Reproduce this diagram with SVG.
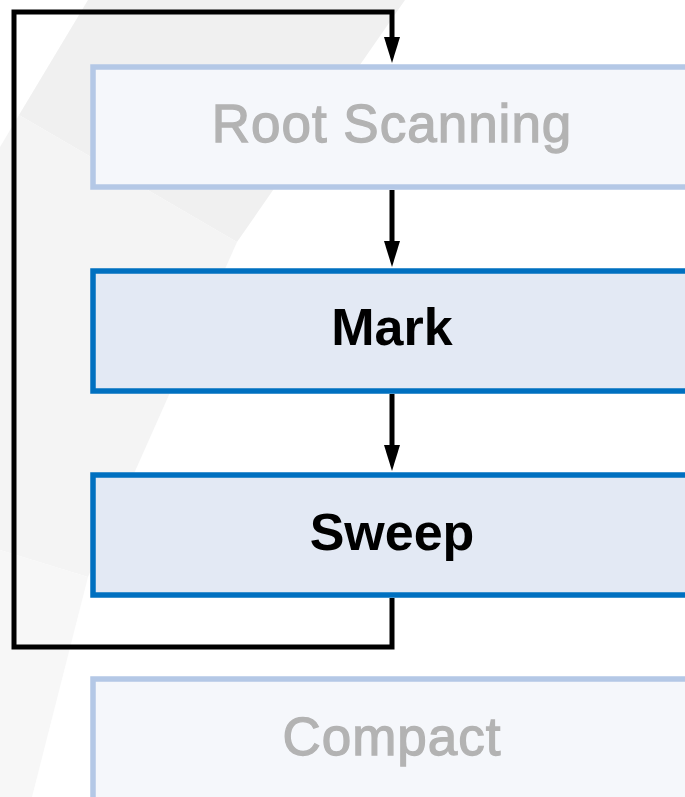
<svg xmlns="http://www.w3.org/2000/svg" width="685" height="797" viewBox="0 0 685 797">
<style>
.bg{stroke:none}
.dim rect{fill:#f5f7fb;stroke:#b4c8e6;stroke-width:5.5}
.act rect{fill:#e3e9f4;stroke:#0070c0;stroke-width:5.5}
.dim text{fill:#b3b3b3;stroke:#b3b3b3;stroke-width:1.3;font-family:"Liberation Sans",Arial,sans-serif;font-size:53px;letter-spacing:1px;text-anchor:middle}
.act text{fill:#000;font-family:"Liberation Sans",Arial,sans-serif;font-size:52px;font-weight:bold;text-anchor:middle}
.conn path{fill:none;stroke:#000;stroke-width:5}
</style>
<defs>
<marker id="arr" viewBox="0 0 26 16" refX="1" refY="8" markerWidth="26" markerHeight="16" markerUnits="userSpaceOnUse" orient="auto">
<path d="M0,0 L26,8 L0,16 Z" fill="#000"/>
</marker>
</defs>
<rect width="685" height="797" fill="#fff"/>
<g id="background">
<polygon class="bg" fill="#f0f0f0" points="88,0 405,0 237,242 19,115"/>
<polygon class="bg" fill="#f4f4f4" points="19,115 237,242 88,577 0,550 0,147"/>
<polygon class="bg" fill="#f7f7f7" points="0,550 88,577 32,797 0,797"/>
</g>
<g id="root-scanning" class="dim">
<rect x="93" y="67" width="598" height="120"/>
<text x="392" y="142">Root Scanning</text>
</g>
<g id="mark" class="act">
<rect x="93" y="271" width="598" height="120"/>
<text x="392" y="345">Mark</text>
</g>
<g id="sweep" class="act">
<rect x="93" y="475" width="598" height="120"/>
<text x="392" y="550">Sweep</text>
</g>
<g id="compact" class="dim">
<rect x="93" y="679" width="598" height="140"/>
<text x="392" y="755">Compact</text>
</g>
<g id="connectors" class="conn">
<path d="M392,190 V242" marker-end="url(#arr)"/>
<path d="M392,394 V446" marker-end="url(#arr)"/>
<path d="M392,598 V647 H14 V12 H392 V38" marker-end="url(#arr)"/>
</g>
</svg>
